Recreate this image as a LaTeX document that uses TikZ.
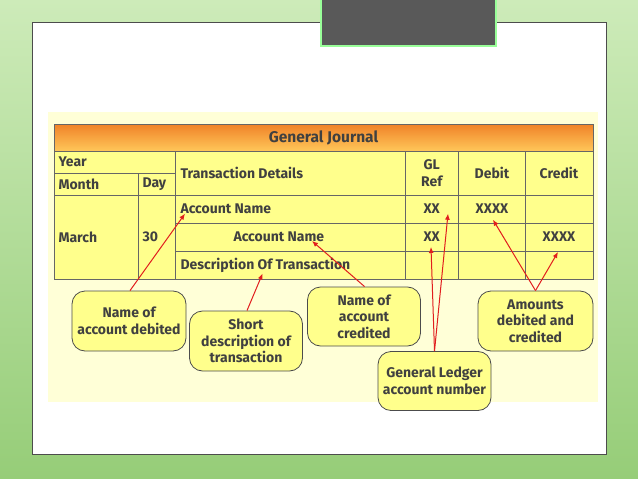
\documentclass[tikz,border=0pt]{standalone}
\usepackage{fontspec}
\usetikzlibrary{arrows.meta}
\setmainfont{Fira Sans}
\definecolor{tbl}{RGB}{255,255,140}
\definecolor{bgy}{RGB}{255,255,215}
\definecolor{arr}{RGB}{225,30,30}
\definecolor{org1}{RGB}{240,130,40}
\definecolor{org2}{RGB}{255,200,90}
\definecolor{gtop}{RGB}{205,235,185}
\definecolor{gbot}{RGB}{150,205,120}
\begin{document}
\begin{tikzpicture}[x=1pt,y=-1pt,
  txt/.style={font=\bfseries\fontsize{14}{16.5}\selectfont, text=black!75},
  call/.style={draw=black!70, line width=0.8pt, fill=tbl, rounded corners=13pt, align=center, inner sep=0pt, txt},
  ar/.style={draw=arr, line width=1pt, -{Latex[length=6pt,width=5pt]}},
  cell/.style={draw=black!60, line width=0.8pt}]
\useasboundingbox (0,0) rectangle (638,479);
\shade[top color=gtop, bottom color=gbot] (0,0) rectangle (638,479);
\fill[white, draw=black!70, line width=0.8pt] (32,22) rectangle (606,454);
\fill[black!65, draw=green!40!white, line width=2pt] (321,-2) rectangle (496,46);
\fill[bgy] (48,112) rectangle (598,402);
% table
\shade[top color=org1, bottom color=org2, draw=black!60] (54,124) rectangle (593,151.5);
\node[txt, font=\bfseries\fontsize{15.5}{17}\selectfont] (hd) at (323.5,137.5) {General Journal};
\fill[tbl] (54,151.5) rectangle (593,279);
\draw[cell] (54,124) rectangle (593,279);
\draw[cell] (54,151.5) -- (593,151.5);
\draw[cell] (54,173) -- (175.5,173);
\draw[cell] (54,195) -- (593,195);
\draw[cell] (175.5,223) -- (593,223);
\draw[cell] (175.5,251) -- (593,251);
\draw[cell] (138.6,173) -- (138.6,279);
\draw[cell] (175.5,151.5) -- (175.5,279);
\draw[cell] (405,151.5) -- (405,279);
\draw[cell] (458.4,151.5) -- (458.4,279);
\draw[cell] (525.6,151.5) -- (525.6,279);
\node[txt, anchor=west] (yr) at (55,162) {Year};
\node[txt, anchor=west] (mo) at (55,184) {Month};
\node[txt, anchor=west] (dy) at (139,184) {Day};
\node[txt, anchor=west] (td) at (177,173) {Transaction Details};
\node[txt, align=center] (gl) at (431.7,173) {GL\\Ref};
\node[txt] (db) at (492,173) {Debit};
\node[txt] (cr) at (559,173) {Credit};
\node[txt, anchor=west] (mar) at (55,237) {March};
\node[txt, anchor=west] (d30) at (139,237) {30};
\node[txt, anchor=west] (an1) at (177,209) {Account Name};
\node[txt, anchor=west] (an2) at (230,237) {Account Name};
\node[txt, anchor=west] (desc) at (177,265) {Description Of Transaction};
\node[txt] (x1) at (431.7,209) {XX};
\node[txt] (x2) at (431.7,237) {XX};
\node[txt] (x3) at (492,209) {XXXX};
\node[txt] (x4) at (559,237) {XXXX};
% callouts
\node[call, minimum width=114pt, minimum height=60pt] (c1) at (129,321) {Name of\\account debited};
\node[call, minimum width=113pt, minimum height=60pt] (c2) at (246,341) {Short\\description of\\transaction};
\node[call, minimum width=113pt, minimum height=59pt] (c3) at (364,316.5) {Name of\\account\\credited};
\node[call, minimum width=113pt, minimum height=59pt] (c4) at (434.5,381) {General Ledger\\account number};
\node[call, minimum width=115pt, minimum height=60pt] (c5) at (535.5,321) {Amounts\\debited and\\credited};
\coordinate (p1) at (185,213.7);
\coordinate (p2) at (262.6,273.5);
\coordinate (p3) at (312,241);
\coordinate (p4) at (431,247);
\coordinate (p5) at (448,213.7);
\coordinate (p6) at (493,219.7);
\coordinate (p7) at (558,252);
\draw[ar] (c1.north) ++(1,0) -- (p1);
\draw[ar] (c2.north) ++(1,0) -- (p2);
\draw[ar] (c3.north) ++(0.6,0) -- (p3);
\draw[ar] (c4.north) -- (p4);
\draw[ar] (c4.north) -- (p5);
\draw[ar] (c5.north) -- (p6);
\draw[ar] (c5.north) -- (p7);
\end{tikzpicture}
\end{document}
